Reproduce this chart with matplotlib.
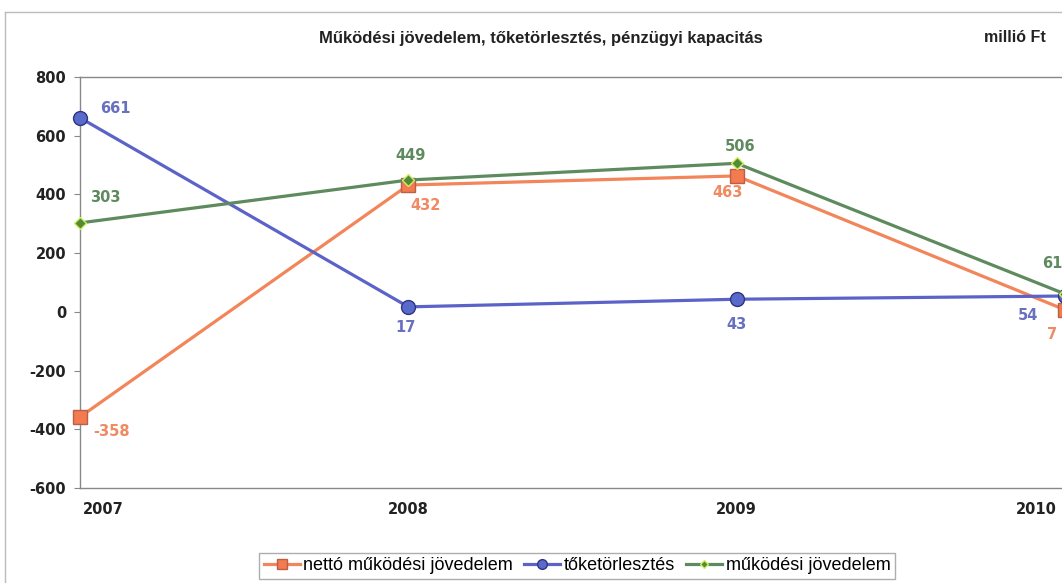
import matplotlib.pyplot as plt
from matplotlib.lines import Line2D
from matplotlib.transforms import ScaledTranslation

plt.rcParams['font.family'] = ['Liberation Sans', 'DejaVu Sans']
plt.rcParams['axes.unicode_minus'] = False

evek = [2007, 2008, 2009, 2010]
netto = [-358, 432, 463, 7]
toketorlesztes = [661, 17, 43, 54]
mukodesi = [303, 449, 506, 61]

cim = "Működési jövedelem, tőketörlesztés, pénzügyi kapacitás"
mertekegyseg = "millió Ft"
nevek = ["nettó működési jövedelem", "tőketörlesztés", "működési jövedelem"]

fig = plt.figure(figsize=(10.62, 5.83), dpi=100)
ax = fig.add_axes([80/1062, 1-488/583, 985/1062, (488-77)/583])

narancs = "#F2855A"
kek = "#5B63C8"
zold = "#5E8B5E"

l1, = ax.plot(evek, netto, color=narancs, lw=2.3, marker="s", ms=10,
              mfc="#F47A50", mec="#B86048", mew=1, clip_on=False, zorder=3)
l2, = ax.plot(evek, toketorlesztes, color=kek, lw=2.3, marker="o", ms=10,
              mfc="#5A6ACB", mec="#2E3580", mew=1, clip_on=False, zorder=3)
l3, = ax.plot(evek, mukodesi, color=zold, lw=2.3, marker="D", ms=6,
              mfc="#4E8B3A", mec="#D8EC60", mew=1, clip_on=False, zorder=4)

# cimke eltolasok pixelben (dx, dy)
eltol_netto = [(32, -15), (17, -20), (-9, -17), (-13, -25)]
eltol_toke = [(35, 9), (-3, -21), (0, -25), (-37, -19)]
eltol_muk = [(25, 25), (2, 25), (3, 17), (-13, 30)]

szamfont = dict(family="DejaVu Sans", fontweight="bold", fontsize=10.5)

def cimkek(ertekek, eltolasok, szin):
    for x, y, (dx, dy) in zip(evek, ertekek, eltolasok):
        ax.annotate(str(y), (x, y), xytext=(dx*0.72, dy*0.72), textcoords="offset points",
                    ha="center", va="center", color=szin, annotation_clip=False,
                    zorder=5, **szamfont)

cimkek(netto, eltol_netto, "#F08A62")
cimkek(toketorlesztes, eltol_toke, "#6870C0")
cimkek(mukodesi, eltol_muk, "#5F8A5F")

ax.set_xlim(2007, 2010)
ax.set_ylim(-600, 800)
ax.set_yticks(range(-600, 801, 200))
ax.set_xticks(evek)
ax.tick_params(axis="y", length=4, color="#888888", pad=6)
ax.tick_params(axis="x", length=0, pad=10)
for t in ax.get_xticklabels() + ax.get_yticklabels():
    t.set_family("DejaVu Sans")
    t.set_fontweight("bold")
    t.set_fontsize(10.5)
    t.set_color("#222222")
xcimkek = ax.get_xticklabels()
xcimkek[0].set_ha("left")
xcimkek[0].set_transform(xcimkek[0].get_transform() + ScaledTranslation(3/100, 0, fig.dpi_scale_trans))
xcimkek[-1].set_ha("right")
xcimkek[-1].set_transform(xcimkek[-1].get_transform() + ScaledTranslation(-8/100, 0, fig.dpi_scale_trans))
for s in ax.spines.values():
    s.set_color("#888888")
    s.set_linewidth(1)

fig.text(541/1062, 1-38/583, cim, ha="center", va="center", fontsize=12, fontweight="bold", color="#222222")
fig.text(1015/1062, 1-38/583, mertekegyseg, ha="center", va="center", fontsize=11.5, fontweight="bold", color="#222222")

# kulso keret
fig.add_artist(Line2D([5/1062, 5/1062], [0, 1-12/583], color="#bbbbbb", lw=1))
fig.add_artist(Line2D([5/1062, 1], [1-12/583, 1-12/583], color="#bbbbbb", lw=1))

leg = fig.legend([l1, l2, l3], nevek, loc="center", bbox_to_anchor=(577/1062, 1-566/583),
                 ncol=3, fontsize=13, frameon=True, fancybox=False, handlelength=2.0,
                 handletextpad=0.2, columnspacing=0.6, borderpad=0.25, markerscale=0.7)
leg.get_frame().set_edgecolor("#999999")
leg.get_frame().set_linewidth(1)

fig.savefig("out.png", dpi=100)
